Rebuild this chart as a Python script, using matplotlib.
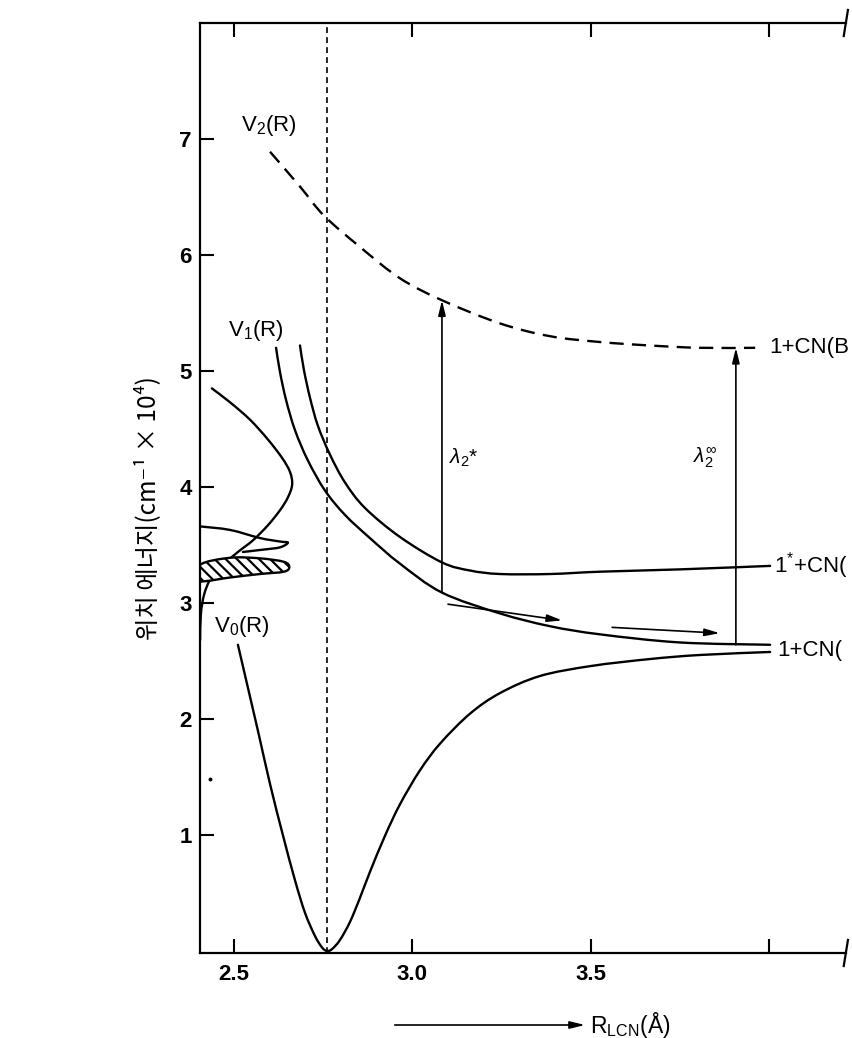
import matplotlib
matplotlib.use("Agg")
import matplotlib.pyplot as plt
from matplotlib.lines import Line2D
from matplotlib.path import Path
from matplotlib.patches import PathPatch

plt.rcParams['font.family'] = ['Liberation Sans', 'DejaVu Sans']
plt.rcParams['mathtext.fontset'] = 'custom'
plt.rcParams['mathtext.rm'] = 'Liberation Sans'
plt.rcParams['mathtext.it'] = 'Liberation Sans:italic'
plt.rcParams['mathtext.bf'] = 'Liberation Sans:bold'
plt.rcParams['hatch.linewidth'] = 1.6

# ---- potential curves (R in Angstrom, energy in 10^4 cm^-1) ----
v0_R = [2.511, 2.539, 2.570, 2.601, 2.637, 2.671, 2.699, 2.727, 2.747, 2.761,
        2.775, 2.797, 2.825, 2.853, 2.881, 2.923, 2.965, 3.021, 3.078, 3.162,
        3.246, 3.358, 3.501, 3.666, 3.806, 4.003]
v0_E = [2.64, 2.27, 1.86, 1.44, 1.00, 0.61, 0.33, 0.13, 0.03, 0.00,
        0.017, 0.095, 0.25, 0.457, 0.681, 0.991, 1.263, 1.556, 1.789, 2.047,
        2.224, 2.371, 2.457, 2.517, 2.552, 2.578]

v1a_R = [2.618, 2.629, 2.646, 2.671, 2.707, 2.755, 2.811, 2.881, 2.965, 3.083,
         3.246, 3.386, 3.526, 3.750, 4.003]
v1a_E = [5.20, 4.99, 4.75, 4.49, 4.23, 3.97, 3.76, 3.56, 3.34, 3.09,
         2.91, 2.80, 2.73, 2.66, 2.64]

v1b_R = [2.685, 2.696, 2.713, 2.735, 2.769, 2.811, 2.867, 2.965, 3.083, 3.162,
         3.246, 3.386, 3.526, 3.750, 4.003]
v1b_E = [5.22, 5.01, 4.77, 4.53, 4.28, 4.04, 3.82, 3.57, 3.35, 3.28,
         3.25, 3.25, 3.27, 3.29, 3.32]

v2_R = [2.601, 2.685, 2.752, 2.853, 2.965, 3.083, 3.246, 3.386, 3.526, 3.666,
        3.806, 3.961]
v2_E = [6.89, 6.59, 6.34, 6.07, 5.80, 5.61, 5.41, 5.30, 5.25, 5.22,
        5.20, 5.20]

# ---- energy distributions drawn along the energy axis ----
dist1_R = [2.438, 2.489, 2.545, 2.595, 2.635, 2.657, 2.663, 2.651, 2.629, 2.595,
           2.553, 2.511, 2.466, 2.433, 2.416, 2.407, 2.405]
dist1_E = [4.85, 4.73, 4.58, 4.41, 4.25, 4.13, 4.02, 3.91, 3.80, 3.67,
           3.54, 3.44, 3.32, 3.20, 3.07, 2.90, 2.68]

dist2_R = [2.406, 2.489, 2.573, 2.629, 2.651, 2.629, 2.581, 2.525]
dist2_E = [3.66, 3.63, 3.56, 3.53, 3.52, 3.48, 3.46, 3.44]

hatch_R = [2.405, 2.489, 2.573, 2.640, 2.655, 2.640, 2.573, 2.489, 2.424, 2.405]
hatch_E = [3.33, 3.39, 3.385, 3.355, 3.31, 3.27, 3.25, 3.22, 3.19, 3.20]

# equilibrium distance of the ground state
r_eq = 2.761

# absorption transitions (R, lower E, upper E)
lam_star = (3.083, 3.09, 5.61)
lam_inf = (3.907, 2.64, 5.20)

# motion arrows along the lower excited curve
move1 = ((3.100, 2.99), (3.420, 2.85))
move2 = ((3.560, 2.79), (3.862, 2.74))

x_ticks = [2.5, 3.0, 3.5, 4.0]
x_labels = ['2.5', '3.0', '3.5', '']
y_ticks = [1, 2, 3, 4, 5, 6, 7]


def smooth_path(xs, ys, closed=False):
    """Catmull-Rom curve through the given points, as cubic Bezier segments."""
    pts = list(zip(xs, ys))
    n = len(pts)
    verts = [pts[0]]
    codes = [Path.MOVETO]
    segs = n if closed else n - 1
    for i in range(segs):
        if closed:
            p0, p1 = pts[(i - 1) % n], pts[i % n]
            p2, p3 = pts[(i + 1) % n], pts[(i + 2) % n]
        else:
            p0 = pts[max(i - 1, 0)]
            p1 = pts[i]
            p2 = pts[i + 1]
            p3 = pts[min(i + 2, n - 1)]
        c1 = (p1[0] + (p2[0] - p0[0]) / 6, p1[1] + (p2[1] - p0[1]) / 6)
        c2 = (p2[0] - (p3[0] - p1[0]) / 6, p2[1] - (p3[1] - p1[1]) / 6)
        verts += [c1, c2, p2]
        codes += [Path.CURVE4] * 3
    if closed:
        verts.append(pts[0])
        codes.append(Path.CLOSEPOLY)
    return Path(verts, codes)


fig = plt.figure(figsize=(8.53, 10.38), dpi=100)
ax = fig.add_axes([200 / 853, 1 - 953 / 1038, 646 / 853, 930 / 1038])
ax.set_xlim(2.4047, 4.2157)
ax.set_ylim(-0.017, 8.0)

lw = 1.7
for xs, ys in ((v0_R, v0_E), (v1a_R, v1a_E), (v1b_R, v1b_E),
               (dist1_R, dist1_E), (dist2_R, dist2_E)):
    ax.add_patch(PathPatch(smooth_path(xs, ys), fill=False, color='black',
                           lw=lw, capstyle='round'))
ax.add_patch(PathPatch(smooth_path(v2_R, v2_E), fill=False, color='black',
                       lw=lw, linestyle=(0, (6, 3.5))))
ax.add_patch(PathPatch(smooth_path(hatch_R, hatch_E, closed=True),
                       facecolor='white', edgecolor='black', lw=lw,
                       hatch='\\\\\\'))
ax.axvline(r_eq, color='black', lw=1.2, dashes=(3.5, 2.5))

arrow_kw = dict(arrowstyle='-|>,head_length=0.9,head_width=0.22',
                color='black', lw=1.2, shrinkA=0, shrinkB=0)
for r, e0, e1 in (lam_star, lam_inf):
    ax.annotate('', xy=(r, e1), xytext=(r, e0), arrowprops=arrow_kw)
for (r0, e0), (r1, e1) in (move1, move2):
    ax.annotate('', xy=(r1, e1), xytext=(r0, e0), arrowprops=arrow_kw)

ax.plot([2.434], [1.48], marker='o', ms=1.8, color='black')

fs = 16
ax.text(2.597, 7.12, r'V$_2$(R)', fontsize=fs, ha='center', va='center')
ax.text(2.562, 5.35, r'V$_1$(R)', fontsize=fs, ha='center', va='center')
ax.text(2.521, 2.80, r'V$_0$(R)', fontsize=fs, ha='center', va='center')
ax.text(3.145, 4.25, r'$\it{\lambda}_2$*', fontsize=15, ha='center', va='center')
ax.text(3.822, 4.25, r'$\it{\lambda}_2^{\infty}$', fontsize=15, ha='center', va='center')
ax.text(4.0, 5.20, '1+CN(B', fontsize=fs, ha='left', va='center')
ax.text(4.014, 3.32, r'1$^{*}$+CN(', fontsize=fs, ha='left', va='center')
ax.text(4.022, 2.59, '1+CN(', fontsize=fs, ha='left', va='center')

# frame: no right spine, break marks at the right end
ax.spines['right'].set_visible(False)
for s in ('left', 'top', 'bottom'):
    ax.spines[s].set_linewidth(1.6)
for yb in (0.0, 1.0):
    ax.add_line(Line2D([0.9965, 1.003], [yb - 0.014, yb + 0.014],
                       transform=ax.transAxes, color='black', lw=1.6, clip_on=False))

ax.set_xticks(x_ticks)
ax.set_xticklabels(x_labels)
ax.set_yticks(y_ticks)
ax.tick_params(axis='both', direction='in', length=10, width=1.5, labelsize=16)
ax.tick_params(axis='x', top=True, pad=8)
ax.tick_params(axis='y', pad=6)
for lab in ax.get_xticklabels() + ax.get_yticklabels():
    lab.set_fontweight('bold')

fig.text(148 / 853, 1 - 508 / 1038, '위치 에너지(cm⁻¹ × 10⁴)', rotation=90,
         ha='center', va='center', fontsize=17.5,
         family=['Noto Sans CJK KR', 'DejaVu Sans'])

fig.add_artist(Line2D([395 / 853, 578 / 853], [1 - 1025 / 1038] * 2,
                      color='black', lw=1.2))
fig.text(590 / 853, 1 - 1025 / 1038, r'R$_{\rm LCN}$(Å)', fontsize=16.5,
         ha='left', va='center')
ax.annotate('', xy=(585 / 853, 1 - 1025 / 1038), xytext=(570 / 853, 1 - 1025 / 1038),
            xycoords='figure fraction',
            arrowprops=dict(arrowstyle='-|>,head_length=0.9,head_width=0.22',
                            color='black', lw=1.2, shrinkA=0, shrinkB=0))

fig.savefig('out.png', dpi=100)
